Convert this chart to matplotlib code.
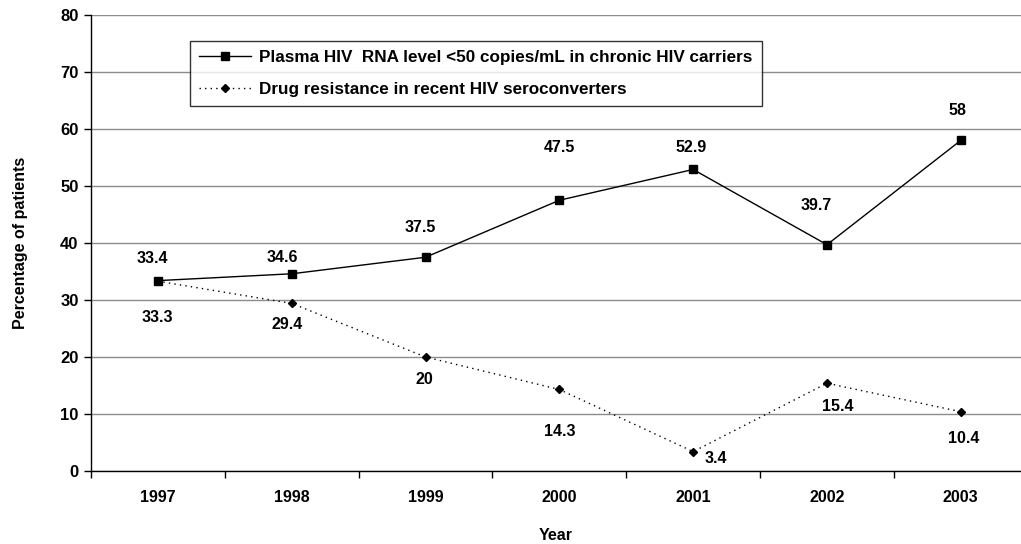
import numpy as np
import matplotlib.pyplot as plt
from matplotlib.ticker import FixedLocator

plt.rcParams['font.family'] = ['Liberation Sans', 'DejaVu Sans']
plt.rcParams['font.weight'] = 'bold'

years = ['1997', '1998', '1999', '2000', '2001', '2002', '2003']
plasma = [33.4, 34.6, 37.5, 47.5, 52.9, 39.7, 58]
resistance = [33.3, 29.4, 20, 14.3, 3.4, 15.4, 10.4]

# label offsets in pixels (dx, dy)
plasma_off = [(-6, 22), (-9, 16), (-5, 30), (0, 53), (-2, 22), (-11, 39), (-3, 30)]
resist_off = [(-1, -36), (-5, -21), (-1, -23), (0, -42), (23, -7), (11, -23), (3, -27)]

x = np.arange(len(years))

fig = plt.figure(figsize=(10.21, 5.44), dpi=100)
ax = fig.add_axes([91 / 1021, 73 / 544, 930 / 1021, 456 / 544])

ax.plot(x, plasma, color='black', lw=1, marker='s', ms=6, zorder=3,
        label='Plasma HIV  RNA level <50 copies/mL in chronic HIV carriers')
ax.plot(x, resistance, color='black', lw=1, ls=(0, (1, 3)), marker='D', ms=4.5, zorder=3,
        label='Drug resistance in recent HIV seroconverters')

for i in range(len(years)):
    ax.annotate(f'{plasma[i]:g}', (x[i], plasma[i]), xytext=plasma_off[i],
                textcoords='offset pixels', ha='center', va='center',
                fontsize=11.5, fontweight='bold')
    ax.annotate(f'{resistance[i]:g}', (x[i], resistance[i]), xytext=resist_off[i],
                textcoords='offset pixels', ha='center', va='center',
                fontsize=11.5, fontweight='bold')

ax.set_xlim(-0.5, 6.45)
ax.set_ylim(0, 80)
ax.set_yticks(np.arange(0, 81, 10))
ax.yaxis.grid(True, color='#8c8c8c', lw=1)
ax.set_axisbelow(True)

ax.set_xticks(x)
ax.set_xticklabels(years)
ax.xaxis.set_minor_locator(FixedLocator(np.arange(-0.5, 6.5, 1)))
ax.tick_params(axis='x', which='major', length=0, pad=14, labelsize=11.5)
ax.tick_params(axis='x', which='minor', length=5, direction='out', width=1)
ax.tick_params(axis='y', length=5, width=1, pad=4, labelsize=12)

for s in ['top', 'right']:
    ax.spines[s].set_visible(False)
ax.spines['left'].set_linewidth(1)
ax.spines['bottom'].set_linewidth(1)

ax.set_ylabel('Percentage of patients', fontsize=11.5, fontweight='bold', labelpad=23)
ax.set_xlabel('Year', fontsize=11.5, fontweight='bold', labelpad=16)

leg = ax.legend(loc='upper left', bbox_to_anchor=(99 / 930, 1 - 26 / 456),
                fontsize=12.3, frameon=True, fancybox=False, edgecolor='black',
                borderpad=0.55, handlelength=3.0, handletextpad=0.5, labelspacing=0.95,
                borderaxespad=0.0)
leg.get_frame().set_linewidth(1)

fig.savefig('out.png', dpi=100)
